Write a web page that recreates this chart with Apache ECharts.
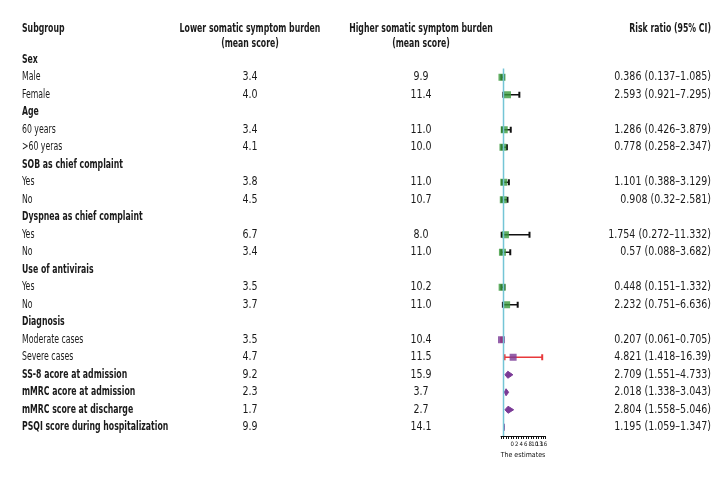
<!DOCTYPE html>
<html>
<head>
<meta charset="utf-8">
<script src="https://cdn.jsdelivr.net/npm/echarts@6/dist/echarts.min.js"></script>
<style>
  html, body { margin: 0; padding: 0; background: #fff; }
  #chart { width: 720px; height: 480px; }
</style>
</head>
<body>
<div id="chart"></div>
<script>
// rows of the table, top to bottom
const subgroups = ['Sex', 'Male', 'Female', 'Age', '60 years', '>60 yeras',
  'SOB as chief complaint', 'Yes', 'No', 'Dyspnea as chief complaint', 'Yes', 'No',
  'Use of antivirais', 'Yes', 'No', 'Diagnosis', 'Moderate cases', 'Severe cases',
  'SS-8 acore at admission', 'mMRC acore at admission', 'mMRC score at discharge',
  'PSQI score during hospitalization']
const boldRows = [1, 0, 0, 1, 0, 0, 1, 0, 0, 1, 0, 0, 1, 0, 0, 1, 0, 0, 1, 1, 1, 1]
const lowerScores = ['', '3.4', '4.0', '', '3.4', '4.1', '', '3.8', '4.5', '', '6.7', '3.4',
  '', '3.5', '3.7', '', '3.5', '4.7', '9.2', '2.3', '1.7', '9.9']
const higherScores = ['', '9.9', '11.4', '', '11.0', '10.0', '', '11.0', '10.7', '', '8.0', '11.0',
  '', '10.2', '11.0', '', '10.4', '11.5', '15.9', '3.7', '2.7', '14.1']
const riskRatio = [null, 0.386, 2.593, null, 1.286, 0.778, null, 1.101, 0.908, null, 1.754, 0.57,
  null, 0.448, 2.232, null, 0.207, 4.821, 2.709, 2.018, 2.804, 1.195]
const ciLow = [null, 0.137, 0.921, null, 0.426, 0.258, null, 0.388, 0.32, null, 0.272, 0.088,
  null, 0.151, 0.751, null, 0.061, 1.418, 1.551, 1.338, 1.558, 1.059]
const ciHigh = [null, 1.085, 7.295, null, 3.879, 2.347, null, 3.129, 2.581, null, 11.332, 3.682,
  null, 1.332, 6.636, null, 0.705, 16.39, 4.733, 3.043, 5.046, 1.347]
// s = square, d = diamond; g = green, p = purple
const markShape = ['', 's', 's', '', 's', 's', '', 's', 's', '', 's', 's', '', 's', 's', '', 's', 's', 'd', 'd', 'd', 'd']
const markGroup = ['', 'g', 'g', '', 'g', 'g', '', 'g', 'g', '', 'g', 'g', '', 'g', 'g', '', 'p', 'p', 'p', 'p', 'p', 'p']
const tickLabels = ['0', '2', '4', '6', '8', '10', '13', '16']
const refValue = 1

const FONT = "'Liberation Sans Narrow', 'DejaVu Sans Condensed', sans-serif"
const SQUEEZE = 0.72
const NUM_SQUEEZE = 0.88
const GREEN = '#3a9a3c'
const PURPLE = '#7a3a96'
const RED = '#e8393b'

const rowIdx = subgroups.map((s, i) => i)
const rrTexts = riskRatio.map((v, i) => v == null ? '' : v + ' (' + ciLow[i] + '–' + ciHigh[i] + ')')
const forestRows = rowIdx.filter(i => riskRatio[i] != null)

// one column of the table, drawn as text at (xPos, row)
function textSeries(xPos, texts, align, bold, squeeze) {
  return {
    type: 'custom', xAxisIndex: 0, yAxisIndex: 0, silent: true,
    data: texts.map((t, i) => [xPos, i]),
    renderItem: function (params, api) {
      let i = params.dataIndex
      let p = api.coord([api.value(0), api.value(1)])
      return {
        type: 'text', x: p[0], y: p[1], scaleX: squeeze,
        style: {
          text: texts[i], x: 0, y: 0, align: align, verticalAlign: 'middle',
          font: (bold && bold[i] ? 'bold ' : '') + '12px ' + FONT, fill: '#1a1a1a'
        }
      }
    }
  }
}

function header(x, text, align) {
  return {
    type: 'text', x: x, y: 21, scaleX: SQUEEZE,
    style: { text: text, font: 'bold 12px ' + FONT, fill: '#1a1a1a', align: align, lineHeight: 15 }
  }
}

let chart = echarts.init(document.getElementById('chart'))
let option = {
  animation: false,
  textStyle: { fontFamily: FONT },
  graphic: [
    header(22, 'Subgroup', 'left'),
    header(250, 'Lower somatic symptom burden\n(mean score)', 'center'),
    header(421, 'Higher somatic symptom burden\n(mean score)', 'center'),
    header(711, 'Risk ratio (95% CI)', 'right')
  ],
  grid: [
    { left: 0, width: 720, top: 51, height: 385 },
    { left: 501, width: 44, top: 51, height: 385 },
    { left: 510, width: 36, top: 51, height: 385 }
  ],
  xAxis: [
    { gridIndex: 0, type: 'value', min: 0, max: 720, show: false },
    {
      gridIndex: 1, type: 'value', min: 0, max: 17.5, interval: 1, position: 'bottom',
      axisLine: { show: true, onZero: false, lineStyle: { color: '#111', width: 1 } },
      axisTick: { show: true, length: 3, lineStyle: { color: '#111', width: 1 } },
      axisLabel: { show: false }, splitLine: { show: false },
      name: 'The estimates', nameLocation: 'middle', nameGap: 16,
      nameTextStyle: { fontSize: 7, color: '#111', fontFamily: FONT }
    },
    {
      gridIndex: 2, type: 'category', data: tickLabels, boundaryGap: true, position: 'bottom',
      axisLine: { show: false }, axisTick: { show: false },
      axisLabel: { fontSize: 6, color: '#111', margin: 5, interval: 0, fontFamily: FONT }
    }
  ],
  yAxis: [
    { gridIndex: 0, type: 'value', min: -0.5, max: 21.5, inverse: true, show: false },
    { gridIndex: 1, type: 'value', min: -0.5, max: 21.5, inverse: true, show: false },
    { gridIndex: 2, type: 'value', min: -0.5, max: 21.5, inverse: true, show: false }
  ],
  series: [
    textSeries(22, subgroups, 'left', boldRows, SQUEEZE),
    textSeries(250, lowerScores, 'center', null, NUM_SQUEEZE),
    textSeries(421, higherScores, 'center', null, NUM_SQUEEZE),
    textSeries(711, rrTexts, 'right', null, NUM_SQUEEZE),
    {
      // reference line
      type: 'line', xAxisIndex: 1, yAxisIndex: 1, symbol: 'none', silent: true,
      data: [[refValue, 0.5], [refValue, 21.5]],
      lineStyle: { color: '#74c5d6', width: 1.5 }
    },
    {
      // confidence intervals
      type: 'custom', xAxisIndex: 1, yAxisIndex: 1, silent: true,
      data: forestRows.filter(i => markShape[i] === 's').map(i => [ciLow[i], ciHigh[i], i]),
      renderItem: function (params, api) {
        let row = api.value(2)
        let a = api.coord([api.value(0), row])
        let b = api.coord([api.value(1), row])
        let color = markGroup[row] === 'p' ? RED : '#111'
        return {
          type: 'group',
          children: [
            { type: 'line', shape: { x1: a[0], y1: a[1], x2: b[0], y2: b[1] }, style: { stroke: color, lineWidth: 1.5 } },
            { type: 'line', shape: { x1: a[0], y1: a[1] - 3, x2: a[0], y2: a[1] + 3 }, style: { stroke: color, lineWidth: 2 } },
            { type: 'line', shape: { x1: b[0], y1: b[1] - 3, x2: b[0], y2: b[1] + 3 }, style: { stroke: color, lineWidth: 2 } }
          ]
        }
      }
    },
    {
      // point estimates
      type: 'scatter', xAxisIndex: 1, yAxisIndex: 1, symbol: 'rect', symbolSize: 7, silent: true,
      data: forestRows.filter(i => markShape[i] === 's').map(i => ({
        value: [riskRatio[i], i],
        itemStyle: { color: markGroup[i] === 'p' ? PURPLE : GREEN }
      }))
    },
    {
      // diamonds for continuous scores
      type: 'custom', xAxisIndex: 1, yAxisIndex: 1, silent: true,
      data: forestRows.filter(i => markShape[i] === 'd').map(i => [ciLow[i], riskRatio[i], ciHigh[i], i]),
      renderItem: function (params, api) {
        let row = api.value(3)
        let lo = api.coord([api.value(0), row])
        let mid = api.coord([api.value(1), row])
        let hi = api.coord([api.value(2), row])
        return {
          type: 'polygon',
          shape: { points: [[lo[0], lo[1]], [mid[0], mid[1] - 3.5], [hi[0], hi[1]], [mid[0], mid[1] + 3.5]] },
          style: { fill: PURPLE, stroke: PURPLE, lineWidth: 1 }
        }
      }
    }
  ]
}
chart.setOption(option)
</script>
</body>
</html>
